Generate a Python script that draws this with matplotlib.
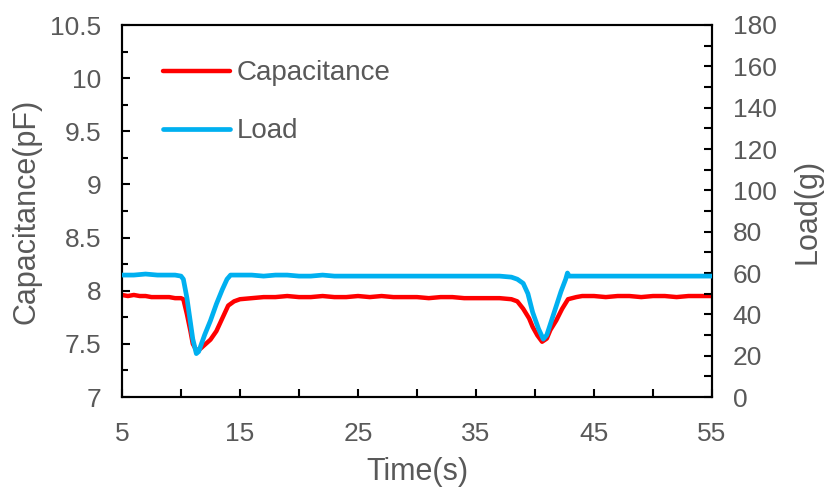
import matplotlib
matplotlib.use("Agg")
import matplotlib.pyplot as plt
from matplotlib.ticker import MultipleLocator

plt.rcParams['font.family'] = ['Liberation Sans', 'DejaVu Sans']

# ---- data ----
cap_time = [5, 5.5, 6, 6.5, 7, 7.5, 8, 8.5, 9, 9.5, 10, 10.2, 10.5, 10.8, 11.0, 11.3, 11.6,
            12.0, 12.5, 13.0, 13.5, 14.0, 14.5, 15, 16, 17, 18, 19, 20, 21, 22, 23, 24, 25,
            26, 27, 28, 29, 30, 31, 32, 33, 34, 35, 36, 37, 38, 38.5, 39, 39.5, 39.8, 40.2,
            40.6, 41.0, 41.3, 41.8, 42.3, 42.8, 43.5, 44, 45, 46, 47, 48, 49, 50, 51, 52, 53,
            54, 55]
capacitance = [7.96, 7.95, 7.96, 7.95, 7.95, 7.94, 7.94, 7.94, 7.94, 7.93, 7.93, 7.92, 7.78,
               7.62, 7.50, 7.44, 7.45, 7.49, 7.54, 7.62, 7.74, 7.86, 7.90, 7.92, 7.93, 7.94,
               7.94, 7.95, 7.94, 7.94, 7.95, 7.94, 7.94, 7.95, 7.94, 7.95, 7.94, 7.94, 7.94,
               7.93, 7.94, 7.94, 7.93, 7.93, 7.93, 7.93, 7.92, 7.90, 7.83, 7.74, 7.66, 7.58,
               7.52, 7.55, 7.63, 7.72, 7.83, 7.92, 7.94, 7.95, 7.95, 7.94, 7.95, 7.95, 7.94,
               7.95, 7.95, 7.94, 7.95, 7.95, 7.95]

load_time = [5, 6, 7, 8, 9, 9.5, 10, 10.2, 10.5, 10.8, 11.0, 11.3, 11.5, 12.0, 12.5, 13.0,
             13.5, 13.9, 14.2, 15, 16, 17, 18, 19, 20, 21, 22, 23, 24, 25, 26, 27, 28, 29,
             30, 31, 32, 33, 34, 35, 36, 37, 38, 38.5, 39.0, 39.4, 39.8, 40.3, 40.7, 41.0,
             41.4, 41.8, 42.2, 42.6, 42.75, 42.9, 43.2, 44, 45, 46, 47, 48, 49, 50, 51, 52,
             53, 54, 55]
load = [59, 59, 59.5, 59, 59, 59, 58.5, 57, 48, 36, 28, 21, 22, 30, 37, 45, 52, 57, 59, 59,
        59, 58.5, 59, 59, 58.5, 58.5, 59, 58.5, 58.5, 58.5, 58.5, 58.5, 58.5, 58.5, 58.5,
        58.5, 58.5, 58.5, 58.5, 58.5, 58.5, 58.5, 58, 57, 55, 50, 41, 33, 28, 30, 37, 44,
        51, 57, 60, 58.5, 58.5, 58.5, 58.5, 58.5, 58.5, 58.5, 58.5, 58.5, 58.5, 58.5, 58.5,
        58.5, 58.5]

x_ticks = [5, 15, 25, 35, 45, 55]
left_ticks = [7, 7.5, 8, 8.5, 9, 9.5, 10, 10.5]
left_labels = ['7', '7.5', '8', '8.5', '9', '9.5', '10', '10.5']
right_ticks = list(range(0, 181, 20))

# ---- style ----
grey = '#595959'
red = '#FF0000'
blue = '#00B0F0'

fig = plt.figure(figsize=(8.29, 4.98), dpi=100)
ax = fig.add_axes([122/829, 1 - 397/498, (712-122)/829, (397-25)/498])
ax2 = ax.twinx()

l1, = ax.plot(cap_time, capacitance, color=red, lw=3.2, solid_capstyle='round', zorder=3)
l2, = ax2.plot(load_time, load, color=blue, lw=3.4, solid_capstyle='round', zorder=3)

ax.set_xlim(5, 55)
ax.set_ylim(7, 10.5)
ax2.set_ylim(0, 180)

ax.set_xticks(x_ticks)
ax.xaxis.set_minor_locator(MultipleLocator(5))
ax.set_yticks(left_ticks)
ax.set_yticklabels(left_labels)
ax.yaxis.set_minor_locator(MultipleLocator(0.25))
ax2.set_yticks(right_ticks)
ax2.yaxis.set_minor_locator(MultipleLocator(10))

fs = 19
for a in (ax, ax2):
    for s in a.spines.values():
        s.set_linewidth(1.5)
        s.set_color('black')
ax.tick_params(axis='both', which='major', direction='in', length=6, width=1.5,
               labelsize=fs, labelcolor=grey, pad=15)
ax.tick_params(axis='y', which='minor', direction='in', length=4, width=1.5)
ax.tick_params(axis='x', which='minor', direction='in', length=6, width=1.5)
ax.tick_params(axis='x', which='major', pad=18)
ax2.tick_params(axis='y', which='major', direction='in', length=6, width=1.5,
                labelsize=fs, labelcolor=grey, pad=15)
ax2.tick_params(axis='y', which='minor', direction='in', length=6, width=1.5)

ax.set_xlabel('Time(s)', fontsize=22, color=grey, labelpad=8)
ax.set_ylabel('Capacitance(pF)', fontsize=22, color=grey, labelpad=6)
ax2.set_ylabel('Load(g)', fontsize=22, color=grey, labelpad=11)

leg = ax2.legend([l1, l2], ['Capacitance', 'Load'], loc='upper left',
                 bbox_to_anchor=(0.07, 0.905), frameon=False, fontsize=20,
                 handlelength=2.4, handletextpad=0.25, labelspacing=1.15,
                 borderaxespad=0, borderpad=0)
for t in leg.get_texts():
    t.set_color(grey)

fig.savefig('out.png', dpi=100)
